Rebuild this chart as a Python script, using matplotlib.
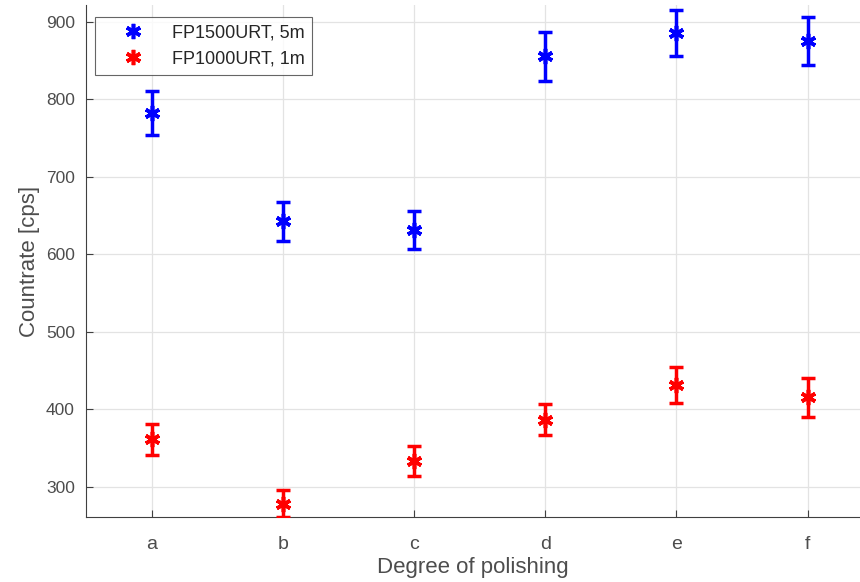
import matplotlib
matplotlib.use("Agg")
import matplotlib.pyplot as plt

plt.rcParams['font.family'] = ['Liberation Sans', 'DejaVu Sans']

grade = ['a', 'b', 'c', 'd', 'e', 'f']
pos = [1, 2, 3, 4, 5, 6]

fp1500 = [782, 642, 631, 855, 885, 875]
fp1500_err = [29, 25, 25, 32, 30, 31]

fp1000 = [361, 278, 333, 386, 431, 415]
fp1000_err = [20, 17, 19, 20, 23, 25]

fig = plt.figure(figsize=(8.6, 5.82), dpi=100)
ax = fig.add_axes([0.1, 0.112, 0.9, 0.879])

ast = (6, 2, 0)
ax.errorbar(pos, fp1500, yerr=fp1500_err, fmt='none', ecolor='#0000ff',
            elinewidth=2.5, capsize=5, capthick=2.5, zorder=3)
ax.plot(pos, fp1500, linestyle='none', marker=ast, markersize=11,
        markeredgewidth=2.6, color='#0000ff', label='FP1500URT, 5m', zorder=4)
ax.errorbar(pos, fp1000, yerr=fp1000_err, fmt='none', ecolor='#ff0000',
            elinewidth=2.5, capsize=5, capthick=2.5, zorder=3)
ax.plot(pos, fp1000, linestyle='none', marker=ast, markersize=11,
        markeredgewidth=2.6, color='#ff0000', label='FP1000URT, 1m', zorder=4)

ax.set_xlim(0.5, 6.4)
ax.set_ylim(261, 921)
ax.set_xticks(pos)
ax.set_xticklabels(grade)
ax.set_yticks([300, 400, 500, 600, 700, 800, 900])

ax.grid(True, color='#e3e3e3', linewidth=0.9)
ax.set_axisbelow(True)
for s in ['top', 'right']:
    ax.spines[s].set_visible(False)
for s in ['left', 'bottom']:
    ax.spines[s].set_color('#404040')
    ax.spines[s].set_linewidth(0.8)
ax.tick_params(direction='in', length=5, colors='#404040', labelcolor='#4d4d4d',
               labelsize=12.5)
ax.tick_params(axis='x', pad=14, labelsize=14)
ax.tick_params(axis='y', pad=8)

ax.set_xlabel('Degree of polishing', fontsize=16, color='#4d4d4d', labelpad=3)
ax.set_ylabel('Countrate [cps]', fontsize=16, color='#4d4d4d', labelpad=4)

leg = ax.legend(loc='upper left', bbox_to_anchor=(0.0116, 0.977), fontsize=13,
                frameon=True, fancybox=False, edgecolor='#404040',
                borderaxespad=0, handlelength=3.4, handletextpad=0.45,
                borderpad=0.42, labelspacing=0.5)
leg.get_frame().set_linewidth(0.8)
for t in leg.get_texts():
    t.set_color('#262626')

fig.savefig('out.png', dpi=100)
